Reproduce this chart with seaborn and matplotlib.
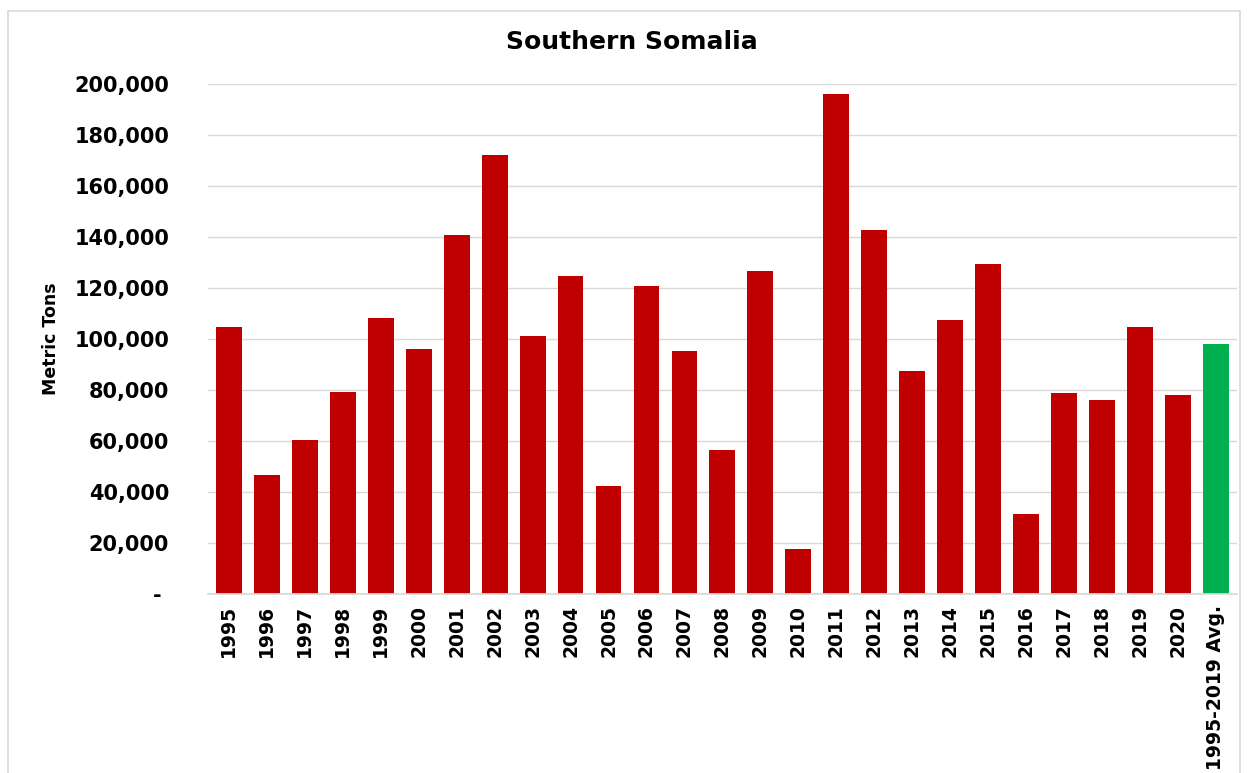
import matplotlib
matplotlib.use("Agg")
import matplotlib.pyplot as plt
import seaborn as sns
from matplotlib.ticker import FuncFormatter, MultipleLocator
from matplotlib.patches import Rectangle

categories = ["1995", "1996", "1997", "1998", "1999", "2000", "2001", "2002", "2003",
              "2004", "2005", "2006", "2007", "2008", "2009", "2010", "2011", "2012",
              "2013", "2014", "2015", "2016", "2017", "2018", "2019", "2020",
              "1995-2019 Avg."]
values = [104700, 46700, 60400, 79200, 108200, 96100, 140800, 172200, 101200,
          124700, 42400, 120800, 95300, 56500, 126700, 17600, 196100, 142700,
          87500, 107500, 129400, 31400, 78800, 76100, 104700, 78000, 98000]
colors = ["#C00000"] * 26 + ["#00B050"]

sns.set_theme(style="white")
plt.rcParams["font.family"] = ["DejaVu Sans"]

fig = plt.figure(figsize=(12.48, 7.73), dpi=100)
ax = fig.add_axes([0.1667, 0.2316, 0.8243, 0.6597])

sns.barplot(x=categories, y=values, hue=categories, palette=colors, legend=False,
            width=0.68, saturation=1, ax=ax, edgecolor="none")

ax.set_ylim(0, 200000)
ax.set_xlim(-0.55, len(categories) - 0.45)
ax.yaxis.set_major_locator(MultipleLocator(20000))
ax.yaxis.set_major_formatter(FuncFormatter(lambda v, p: "- " if v == 0 else f"{v:,.0f}"))
ax.grid(axis="y", color="#d9d9d9", linewidth=1)
ax.set_axisbelow(True)
for s in ["top", "right", "left"]:
    ax.spines[s].set_visible(False)
ax.spines["bottom"].set_color("#d9d9d9")
ax.tick_params(axis="both", length=0)
ax.tick_params(axis="y", pad=28, labelsize=15)
ax.tick_params(axis="x", pad=8, labelsize=13.5, rotation=90)
for lbl in ax.get_yticklabels() + ax.get_xticklabels():
    lbl.set_fontweight("bold")
    lbl.set_color("black")

ax.set_ylabel("Metric Tons", fontsize=12.5, fontweight="bold", color="black", labelpad=10)
ax.set_xlabel("")
fig.text(0.506, 0.946, "Southern Somalia", ha="center", va="center",
         fontsize=18, fontweight="bold", color="black")

fig.patches.append(Rectangle((8 / 1248, -0.01), (1240 - 8) / 1248, 1 - 11 / 773 + 0.01,
                             transform=fig.transFigure, fill=False,
                             edgecolor="#d9d9d9", linewidth=1.2))

fig.savefig("out.png", dpi=100, facecolor="white")
